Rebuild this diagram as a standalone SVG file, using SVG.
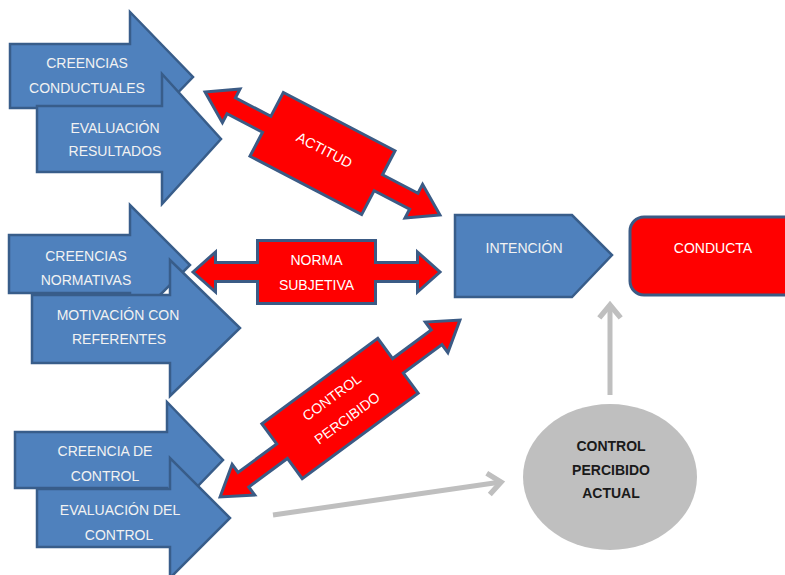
<svg xmlns="http://www.w3.org/2000/svg" width="785" height="575" viewBox="0 0 785 575">
<style>
.blue{fill:#4f81bd;stroke:#385d8a;stroke-width:2.5;stroke-linejoin:miter}
.red{fill:#ff0000;stroke:#3b5b85;stroke-width:3;stroke-linejoin:miter}
.lt{font-family:"Liberation Sans",Arial,sans-serif;font-size:14px;fill:#f2f2f2;text-anchor:middle}
.wt{font-family:"Liberation Sans",Arial,sans-serif;font-size:14px;fill:#ffffff;text-anchor:middle}
.bt{font-family:"Liberation Sans",Arial,sans-serif;font-size:14px;font-weight:bold;fill:#1a1a1a;text-anchor:middle}
.gray{fill:none;stroke:#bfbfbf;stroke-width:5}
</style>
<defs>
<marker id="chev" markerUnits="userSpaceOnUse" markerWidth="30" markerHeight="30" viewBox="-16 -14 20 28" refX="0" refY="0" orient="auto">
<path d="M-12,-10 L0,0 L-12,10" fill="none" stroke="#bfbfbf" stroke-width="5"/>
</marker>
</defs>
<rect width="785" height="575" fill="#ffffff"/>

<g id="creencias-conductuales">
<polygon class="blue" points="10,44 130,44 130,12 193,77 130,142 130,108 10,108"/>
<text class="lt" x="87" y="68">CREENCIAS</text>
<text class="lt" x="87" y="93">CONDUCTUALES</text>
</g>
<g id="evaluacion-resultados">
<polygon class="blue" points="37,106 162,106 162,74 221,139 162,204 162,172 37,172"/>
<text class="lt" x="115" y="133">EVALUACIÓN</text>
<text class="lt" x="115" y="156">RESULTADOS</text>
</g>
<g id="creencias-normativas">
<polygon class="blue" points="9,235 130,235 130,205 190,265 130,325 130,293 9,293"/>
<text class="lt" x="86" y="261">CREENCIAS</text>
<text class="lt" x="86" y="285">NORMATIVAS</text>
</g>
<g id="motivacion-referentes">
<polygon class="blue" points="32,295 170,295 170,260 240,328 170,396 170,363 32,363"/>
<text class="lt" x="118" y="320">MOTIVACIÓN CON</text>
<text class="lt" x="119" y="344">REFERENTES</text>
</g>
<g id="creencia-control">
<polygon class="blue" points="15,432 167,432 167,402 223,460 167,518 167,488 15,488"/>
<text class="lt" x="105" y="456">CREENCIA DE</text>
<text class="lt" x="105" y="481">CONTROL</text>
</g>
<g id="evaluacion-control">
<polygon class="blue" points="37,489 170,489 170,458 230,518 170,578 170,547 37,547"/>
<text class="lt" x="120" y="515">EVALUACIÓN DEL</text>
<text class="lt" x="119" y="540">CONTROL</text>
</g>

<g id="intencion">
<polygon class="blue" points="455,215 572,215 612,255 572,297 455,297"/>
<text class="lt" x="524" y="253">INTENCIÓN</text>
</g>
<g id="conducta">
<rect x="630" y="217" width="180" height="78" rx="14" fill="#ff0000" stroke="#3b5b85" stroke-width="3"/>
<text class="wt" x="713" y="253">CONDUCTA</text>
</g>
<g id="control-percibido-actual">
<ellipse cx="610" cy="477" rx="87" ry="73" fill="#bfbfbf"/>
<text class="bt" x="611" y="451">CONTROL</text>
<text class="bt" x="611" y="475">PERCIBIDO</text>
<text class="bt" x="611" y="498">ACTUAL</text>
</g>

<g id="connectors">
<g id="actitud" transform="translate(322.5,153.5) rotate(27.6)">
<polygon class="red" points="-132.5,0 -103,-19 -103,-9 -63,-9 -63,-36 63,-36 63,-9 103,-9 103,-19 132.5,0 103,19 103,9 63,9 63,36 -63,36 -63,9 -103,9 -103,19"/>
<text class="wt" x="0" y="1">ACTITUD</text>
</g>
<g id="norma-subjetiva" transform="translate(316.5,272)">
<polygon class="red" points="-123.5,0 -101,-20 -101,-9.5 -59,-9.5 -59,-31.5 59,-31.5 59,-9.5 101,-9.5 101,-20 123.5,0 101,20 101,9.5 59,9.5 59,31.5 -59,31.5 -59,9.5 -101,9.5 -101,20"/>
<text class="wt" x="0" y="-7">NORMA</text>
<text class="wt" x="0" y="18">SUBJETIVA</text>
</g>
<g id="control-percibido" transform="translate(340,408.5) rotate(-36.4)">
<polygon class="red" points="-149,0 -120,-19 -120,-9 -72,-9 -72,-34 72,-34 72,-9 120,-9 120,-19 149,0 120,19 120,9 72,9 72,34 -72,34 -72,9 -120,9 -120,19"/>
<text class="wt" x="0" y="-9">CONTROL</text>
<text class="wt" x="0" y="17">PERCIBIDO</text>
</g>
<line class="gray" x1="610" y1="395" x2="610" y2="305" marker-end="url(#chev)"/>
<line class="gray" x1="273" y1="515" x2="501" y2="482" marker-end="url(#chev)"/>
</g>
</svg>
